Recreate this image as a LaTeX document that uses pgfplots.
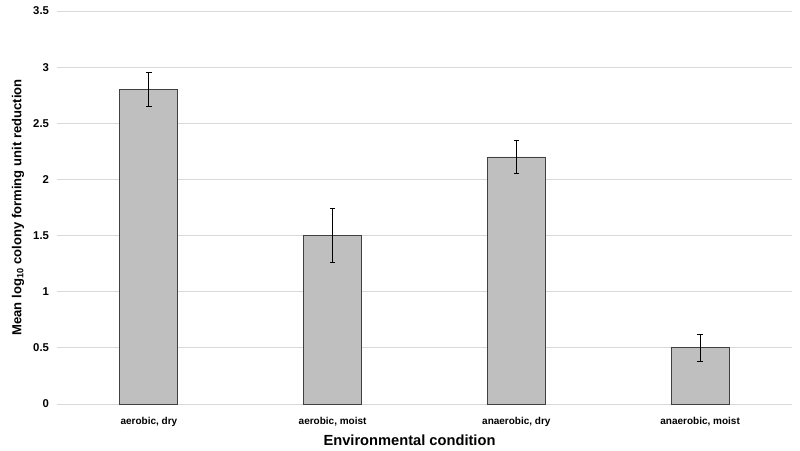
\documentclass[border=0pt]{standalone}
\usepackage{pgfplots}
\pgfplotsset{compat=1.18}
\usepackage{fontspec}
\setmainfont{Liberation Sans}
\setsansfont{Liberation Sans}
\definecolor{barfill}{HTML}{BFBFBF}
\definecolor{baredge}{HTML}{404040}
\definecolor{gridc}{HTML}{D9D9D9}
\begin{document}
\begin{tikzpicture}
\begin{axis}[
  at={(0,0)}, anchor=south west,
  scale only axis,
  width=551.25pt, height=294.75pt,
  xmin=-0.5, xmax=3.5,
  ymin=0, ymax=3.5,
  ytick={0,0.5,...,3.5},
  yticklabels={0,0.5,1,1.5,2,2.5,3,3.5},
  xtick={0,1,2,3},
  xticklabels={{aerobic, dry},{aerobic, moist},{anaerobic, dry},{anaerobic, moist}},
  axis line style={draw=none},
  tick style={draw=none},
  ymajorgrids,
  major grid style={draw=gridc, line width=0.75pt},
  yticklabel style={font=\bfseries\fontsize{8.5}{10}\selectfont, xshift=-2.5pt},
  xticklabel style={font=\bfseries\fontsize{7.5}{9}\selectfont, yshift=-2pt},
  xlabel={Environmental condition},
  ylabel={Mean log\textsubscript{10} colony forming unit reduction},
  xlabel style={font=\bfseries\fontsize{11}{13}\selectfont, at={(axis description cs:0.4796,-0.0916)}, anchor=center},
  ylabel style={font=\bfseries\fontsize{9.8}{11}\selectfont, at={(axis description cs:-0.053,0.5)}, anchor=center},
  ybar, bar width=43.5pt,
]
\addplot[fill=barfill, draw=baredge, line width=0.6pt,
  error bars/.cd, y dir=both, y explicit,
  error bar style={black, line width=0.75pt},
  error mark options={rotate=90, mark size=2pt, black, line width=0.75pt}]
  coordinates {
  (0,2.80) +- (0,0.15)
  (1,1.50) +- (0,0.24)
  (2,2.20) +- (0,0.15)
  (3,0.50) +- (0,0.12)
};
\end{axis}
\pgfresetboundingbox
\path (-42.75pt,-34.5pt) rectangle (557.25pt,303pt);
\end{tikzpicture}
\end{document}
